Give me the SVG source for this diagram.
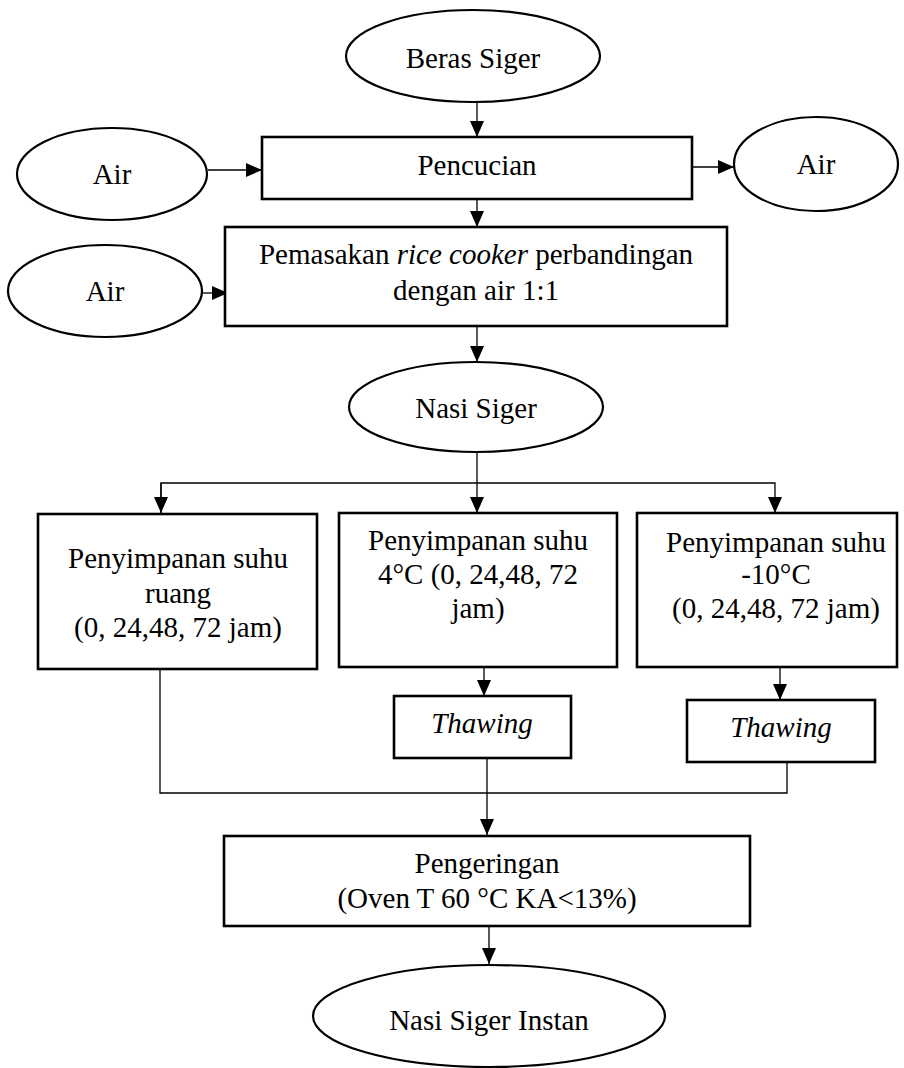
<svg xmlns="http://www.w3.org/2000/svg" width="904" height="1068" viewBox="0 0 904 1068">
<style>
.box{fill:#fff;stroke:#000;stroke-width:2.6}
.oval{fill:#fff;stroke:#000;stroke-width:2.2}
.conn{fill:none;stroke:#000;stroke-width:1.3}
text{font-family:"Liberation Serif","Times New Roman",serif;font-size:29px;fill:#000;text-anchor:middle}
.it{font-style:italic}
</style>
<defs>
<marker id="ah" markerUnits="userSpaceOnUse" markerWidth="16" markerHeight="14" refX="16" refY="7" orient="auto">
<path d="M0,0 L16,7 L0,14 Z" fill="#000"/>
</marker>
</defs>
<rect width="904" height="1068" fill="#fff"/>
<g id="connectors">
<line class="conn" x1="477" y1="102" x2="477" y2="137" marker-end="url(#ah)"/>
<line class="conn" x1="208" y1="170" x2="262" y2="170" marker-end="url(#ah)"/>
<line class="conn" x1="692" y1="167" x2="734" y2="167" marker-end="url(#ah)"/>
<line class="conn" x1="477" y1="199" x2="477" y2="227" marker-end="url(#ah)"/>
<line class="conn" x1="202" y1="293" x2="228" y2="293" marker-end="url(#ah)"/>
<line class="conn" x1="477" y1="326" x2="477" y2="362" marker-end="url(#ah)"/>
<line class="conn" x1="477" y1="453" x2="477" y2="513" marker-end="url(#ah)"/>
<polyline class="conn" points="161,513 161,483 775,483 775,513" marker-end="url(#ah)"/>
<line class="conn" x1="161" y1="483" x2="161" y2="513" marker-end="url(#ah)"/>
<line class="conn" x1="484" y1="667" x2="484" y2="696" marker-end="url(#ah)"/>
<line class="conn" x1="780" y1="667" x2="780" y2="700" marker-end="url(#ah)"/>
<polyline class="conn" points="160,668 160,793 787,793 787,762"/>
<line class="conn" x1="487" y1="758" x2="487" y2="835" marker-end="url(#ah)"/>
<line class="conn" x1="489" y1="926" x2="489" y2="964" marker-end="url(#ah)"/>
</g>
<g id="beras-siger">
<ellipse class="oval" cx="473" cy="56" rx="127" ry="46"/>
<text x="473" y="68">Beras Siger</text>
</g>
<g id="air-in-1">
<ellipse class="oval" cx="112" cy="174" rx="95" ry="46"/>
<text x="112" y="184">Air</text>
</g>
<g id="pencucian">
<rect class="box" x="262" y="137" width="430" height="62"/>
<text x="477" y="175">Pencucian</text>
</g>
<g id="air-out">
<ellipse class="oval" cx="816" cy="164" rx="82" ry="47"/>
<text x="816" y="174">Air</text>
</g>
<g id="pemasakan">
<rect class="box" x="225" y="227" width="502" height="99"/>
<text x="476" y="264">Pemasakan <tspan class="it">rice cooker</tspan> perbandingan</text>
<text x="476" y="300">dengan air 1:1</text>
</g>
<g id="air-in-2">
<ellipse class="oval" cx="105" cy="291" rx="97" ry="46"/>
<text x="105" y="301">Air</text>
</g>
<g id="nasi-siger">
<ellipse class="oval" cx="476" cy="407" rx="127" ry="45"/>
<text x="476" y="418">Nasi Siger</text>
</g>
<g id="simpan-ruang">
<rect class="box" x="38" y="514" width="279" height="155"/>
<text x="178" y="568">Penyimpanan suhu</text>
<text x="178" y="603">ruang</text>
<text x="178" y="637">(0, 24,48, 72 jam)</text>
</g>
<g id="simpan-4">
<rect class="box" x="339" y="513" width="278" height="154"/>
<text x="478" y="550">Penyimpanan suhu</text>
<text x="478" y="584">4°C (0, 24,48, 72</text>
<text x="478" y="618">jam)</text>
</g>
<g id="simpan-10">
<rect class="box" x="637" y="513" width="260" height="154"/>
<text x="776" y="552">Penyimpanan suhu</text>
<text x="776" y="584">-10°C</text>
<text x="776" y="618">(0, 24,48, 72 jam)</text>
</g>
<g id="thawing-1">
<rect class="box" x="394" y="696" width="177" height="62"/>
<text class="it" x="482" y="733">Thawing</text>
</g>
<g id="thawing-2">
<rect class="box" x="687" y="700" width="188" height="62"/>
<text class="it" x="781" y="737">Thawing</text>
</g>
<g id="pengeringan">
<rect class="box" x="224" y="836" width="526" height="90"/>
<text x="487" y="873">Pengeringan</text>
<text x="487" y="908">(Oven T 60 °C KA&lt;13%)</text>
</g>
<g id="nasi-siger-instan">
<ellipse class="oval" cx="489" cy="1016" rx="176" ry="51"/>
<text x="489" y="1030">Nasi Siger Instan</text>
</g>
</svg>
